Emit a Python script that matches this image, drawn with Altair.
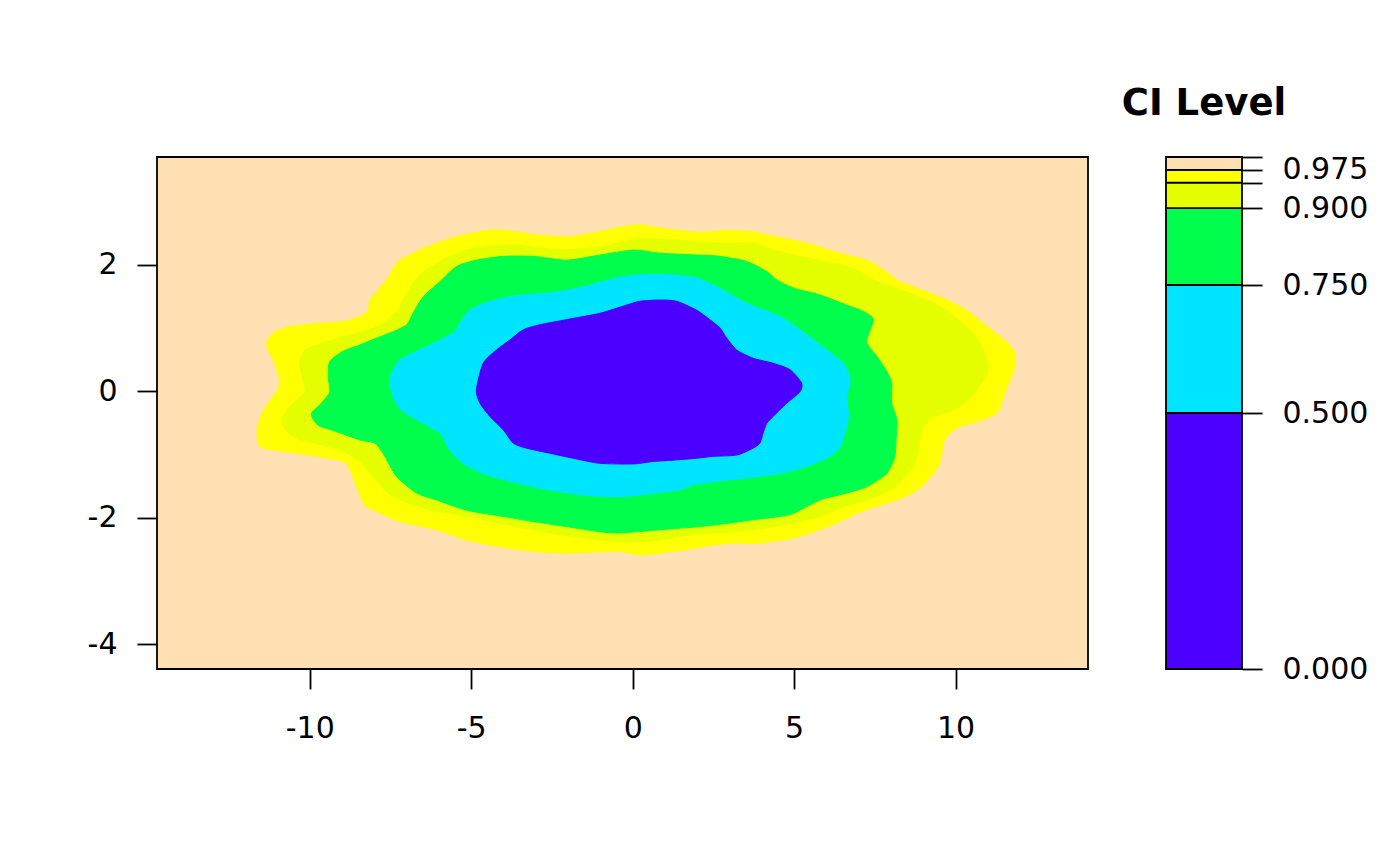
import altair as alt
import pandas as pd

# ---- colour key (CI levels) ----
level_lo = [0.0, 0.5, 0.75, 0.9, 0.95, 0.975]
level_hi = [0.5, 0.75, 0.9, 0.95, 0.975, 1.0]
level_colors = ["#4C00FF", "#00E5FF", "#00FF4D", "#E6FF00", "#FFFF00", "#FFE0B3"]
key_ticks = [0.0, 0.5, 0.75, 0.9, 0.95, 0.975, 1.0]
key_title = "CI Level"

# ---- axis ticks ----
x_ticks = [-10, -5, 0, 5, 10]
y_ticks = [-4, -2, 0, 2]
x_domain = [-14.73, 14.10]
y_domain = [-4.39, 3.70]

# ---- contour boundaries ----
c975_x = [-11.60, -11.63, -11.50, -11.29, -11.03, -10.93, -11.08, -11.29, -11.34, -11.08,
          -10.62, -9.79, -8.97, -8.45, -8.19, -8.14, -7.83, -7.52, -7.26, -6.69,
          -6.07, -5.25, -4.32, -3.60, -2.98, -2.05, -1.22, -0.50, 0.22, 0.84,
          2.08, 2.91, 3.73, 4.35, 5.39, 6.42, 7.25, 7.76, 8.18, 8.69,
          9.52, 10.34, 10.86, 11.58, 11.84, 11.84, 11.69, 11.48, 11.32, 10.86,
          10.14, 9.83, 9.62, 9.57, 9.46, 9.10, 8.74, 8.18, 7.56, 6.94,
          6.42, 5.80, 4.97, 3.94, 3.22, 2.49, 1.56, 0.84, 0.22, -0.50,
          -2.05, -3.08, -4.22, -5.15, -6.07, -7.21, -7.93, -8.30, -8.55, -8.76,
          -8.97, -9.79, -10.83, -11.45]
c975_y = [-0.82, -0.61, -0.37, -0.19, -0.01, 0.15, 0.44, 0.65, 0.78, 0.94,
          1.02, 1.07, 1.10, 1.18, 1.28, 1.44, 1.63, 1.84, 2.05, 2.21,
          2.34, 2.47, 2.55, 2.52, 2.47, 2.44, 2.50, 2.58, 2.63, 2.58,
          2.51, 2.54, 2.52, 2.45, 2.34, 2.18, 2.07, 1.92, 1.76, 1.65,
          1.49, 1.28, 1.07, 0.78, 0.60, 0.39, 0.18, -0.09, -0.32, -0.45,
          -0.56, -0.66, -0.82, -0.98, -1.19, -1.43, -1.59, -1.72, -1.82, -1.93,
          -2.06, -2.19, -2.32, -2.40, -2.40, -2.43, -2.51, -2.56, -2.59, -2.53,
          -2.56, -2.53, -2.45, -2.35, -2.19, -2.06, -1.90, -1.80, -1.51, -1.24,
          -1.11, -1.03, -0.95, -0.90]

c950_x = [-10.52, -10.77, -10.86, -10.72, -10.41, -10.15, -10.21, -10.31, -10.15, -9.48,
          -8.76, -8.35, -7.73, -7.42, -7.26, -7.00, -6.59, -6.07, -5.46, -4.63,
          -3.60, -2.87, -2.05, -1.02, -0.19, 0.22, 1.25, 2.70, 3.73, 4.35,
          5.18, 6.21, 6.83, 7.45, 8.28, 9.10, 9.72, 10.34, 10.76, 11.01,
          10.96, 10.65, 10.34, 9.83, 9.31, 9.00, 8.90, 8.84, 8.69, 8.28,
          7.87, 7.25, 6.42, 5.80, 5.18, 4.15, 3.01, 1.87, 0.84, 0.22,
          -0.50, -1.53, -2.57, -3.60, -4.63, -5.46, -6.28, -7.21, -7.62, -8.04,
          -8.45, -8.86, -9.38, -10.05]
c950_y = [-0.72, -0.61, -0.45, -0.30, -0.14, -0.01, 0.18, 0.44, 0.65, 0.78,
          0.89, 0.94, 1.07, 1.21, 1.28, 1.55, 1.84, 2.02, 2.18, 2.28,
          2.31, 2.26, 2.23, 2.28, 2.37, 2.42, 2.39, 2.34, 2.34, 2.23,
          2.13, 2.02, 1.94, 1.76, 1.60, 1.44, 1.28, 1.02, 0.76, 0.44,
          0.28, 0.02, -0.16, -0.32, -0.40, -0.56, -0.77, -0.98, -1.19, -1.43,
          -1.59, -1.72, -1.85, -1.98, -2.06, -2.16, -2.22, -2.27, -2.35, -2.38,
          -2.38, -2.32, -2.24, -2.14, -2.03, -1.95, -1.88, -1.72, -1.59, -1.35,
          -1.11, -0.98, -0.88, -0.80]

c900_x = [-9.17, -9.69, -9.85, -9.95, -9.64, -9.38, -9.43, -9.38, -8.97, -8.45,
          -7.93, -7.42, -7.00, -6.80, -6.49, -5.97, -5.46, -4.84, -4.01, -3.08,
          -2.05, -1.02, 0.02, 0.84, 2.08, 2.70, 3.53, 4.15, 4.46, 4.97,
          5.80, 6.63, 7.14, 7.45, 7.25, 7.56, 7.87, 8.02, 8.02, 8.18,
          8.15, 8.12, 7.87, 7.25, 6.63, 5.80, 4.87, 3.73, 2.91, 2.08,
          0.84, -0.40, -1.02, -2.05, -3.08, -4.01, -5.15, -6.07, -6.69, -7.31,
          -7.73, -7.99, -8.45]
c900_y = [-0.64, -0.55, -0.48, -0.35, -0.19, -0.01, 0.23, 0.47, 0.63, 0.73,
          0.84, 0.94, 1.05, 1.23, 1.49, 1.73, 1.97, 2.07, 2.13, 2.13,
          2.07, 2.15, 2.23, 2.18, 2.15, 2.13, 2.05, 1.89, 1.76, 1.63,
          1.52, 1.36, 1.26, 1.13, 0.78, 0.55, 0.31, 0.13, -0.19, -0.45,
          -0.82, -1.03, -1.30, -1.51, -1.61, -1.72, -1.95, -2.03, -2.09, -2.14,
          -2.19, -2.24, -2.22, -2.14, -2.06, -1.98, -1.88, -1.72, -1.61, -1.35,
          -0.98, -0.82, -0.77]

c750_x = [-7.52, -7.26, -6.69, -6.07, -5.56, -5.35, -5.04, -4.42, -3.60, -2.57,
          -1.53, -0.50, 0.22, 1.15, 1.98, 2.60, 3.53, 4.56, 5.18, 6.01,
          6.52, 6.68, 6.73, 6.63, 6.68, 6.57, 6.42, 6.11, 5.39, 4.56,
          3.53, 2.49, 1.87, 1.46, 0.84, 0.22, -0.50, -1.53, -2.57, -3.60,
          -4.63, -5.25, -5.66, -5.97, -6.69, -7.16, -7.42]
c750_y = [0.18, 0.47, 0.63, 0.78, 0.92, 1.07, 1.28, 1.42, 1.51, 1.55,
          1.65, 1.79, 1.84, 1.84, 1.79, 1.65, 1.39, 1.18, 0.97, 0.65,
          0.44, 0.28, 0.13, -0.09, -0.40, -0.66, -0.88, -1.03, -1.19, -1.30,
          -1.37, -1.43, -1.48, -1.56, -1.60, -1.64, -1.67, -1.64, -1.56, -1.45,
          -1.30, -1.14, -0.93, -0.66, -0.45, -0.30, -0.09]

c500_x = [-4.84, -4.63, -4.22, -3.80, -3.39, -2.87, -2.05, -1.02, -0.19, 0.22,
          0.84, 1.36, 1.98, 2.39, 2.70, 2.91, 3.22, 3.73, 4.35, 4.87,
          5.23, 5.18, 4.77, 4.35, 4.15, 4.04, 3.94, 3.73, 3.22, 2.49,
          1.98, 1.25, 0.64, 0.02, -1.02, -1.84, -2.57, -3.29, -3.70, -4.01,
          -4.42, -4.73]
c500_y = [0.02, 0.44, 0.65, 0.81, 0.97, 1.05, 1.13, 1.23, 1.36, 1.42,
          1.44, 1.42, 1.28, 1.13, 1.00, 0.84, 0.65, 0.52, 0.44, 0.34,
          0.13, -0.01, -0.19, -0.40, -0.51, -0.66, -0.82, -0.90, -1.01, -1.03,
          -1.06, -1.09, -1.11, -1.15, -1.14, -1.06, -0.98, -0.90, -0.82, -0.61,
          -0.40, -0.19]

contours = [
    (c975_x, c975_y, "#FFFF00"),
    (c950_x, c950_y, "#E6FF00"),
    (c900_x, c900_y, "#00FF4D"),
    (c750_x, c750_y, "#00E5FF"),
    (c500_x, c500_y, "#4C00FF"),
]

FONT = "DejaVu Sans"
LABEL_SIZE = 30
HYPHEN_LABEL = "datum.value < 0 ? '-' + toString(abs(datum.value)) : toString(datum.value)"

x_scale = alt.Scale(domain=x_domain, nice=False, zero=False)
y_scale = alt.Scale(domain=y_domain, nice=False, zero=False)

x_axis = alt.Axis(values=x_ticks, title=None, grid=False, domain=False, tickSize=20,
                  tickWidth=1.8, tickColor="black", labelFontSize=LABEL_SIZE, labelFont=FONT,
                  labelColor="black", labelPadding=24, labelExpr=HYPHEN_LABEL, orient="bottom")
y_axis = alt.Axis(values=y_ticks, title=None, grid=False, domain=False, tickSize=20,
                  tickWidth=1.8, tickColor="black", labelFontSize=LABEL_SIZE, labelFont=FONT,
                  labelColor="black", labelPadding=20, labelAngle=0, labelExpr=HYPHEN_LABEL,
                  orient="left")

poly_layers = []
for xs, ys, col in contours:
    df = pd.DataFrame({"x": xs, "y": ys, "i": list(range(len(xs)))})
    layer = alt.Chart(df).mark_line(fill=col, stroke=col, strokeWidth=1,
                                    interpolate="cardinal-closed", tension=0.3).encode(
        x=alt.X("x:Q", scale=x_scale, axis=x_axis),
        y=alt.Y("y:Q", scale=y_scale, axis=y_axis),
        order=alt.Order("i:Q"),
    )
    poly_layers.append(layer)

main = alt.layer(*poly_layers)

key_df = pd.DataFrame({"lo": level_lo, "hi": level_hi, "color": level_colors})
key_axis = alt.Axis(orient="right", offset=154, values=key_ticks, title=None, grid=False,
                    domain=False, tickSize=20, tickWidth=1.8, tickColor="black",
                    labelFontSize=LABEL_SIZE, labelFont=FONT, labelColor="black", labelPadding=20,
                    labelExpr="datum.value == 0.95 || datum.value == 1 ? '' : format(datum.value, '.3f')")
key_bar = alt.Chart(key_df).mark_rect(stroke="black", strokeWidth=1.8).encode(
    x=alt.value(1009),
    x2=alt.value(1085),
    y=alt.Y("lo:Q", scale=alt.Scale(domain=[0, 1], nice=False, zero=False), axis=key_axis),
    y2="hi:Q",
    fill=alt.Fill("color:N", scale=None),
)
title_df = pd.DataFrame({"t": [key_title]})
key_title_mark = alt.Chart(title_df).mark_text(
    font=FONT, fontSize=37, fontWeight="bold", align="center", baseline="alphabetic", color="black"
).encode(x=alt.value(1047), y=alt.value(-42), text="t:N")

key = alt.layer(key_bar, key_title_mark)

chart = alt.layer(main, key).resolve_scale(y="independent").properties(
    width=931, height=512,
    autosize=alt.AutoSizeParams(type="none"),
    padding={"left": 157, "top": 157, "right": 312, "bottom": 197},
).configure_view(fill="#FFE0B3", stroke="black", strokeWidth=1.8)

chart.save("out.html", embed_options={"renderer": "svg", "actions": False})
